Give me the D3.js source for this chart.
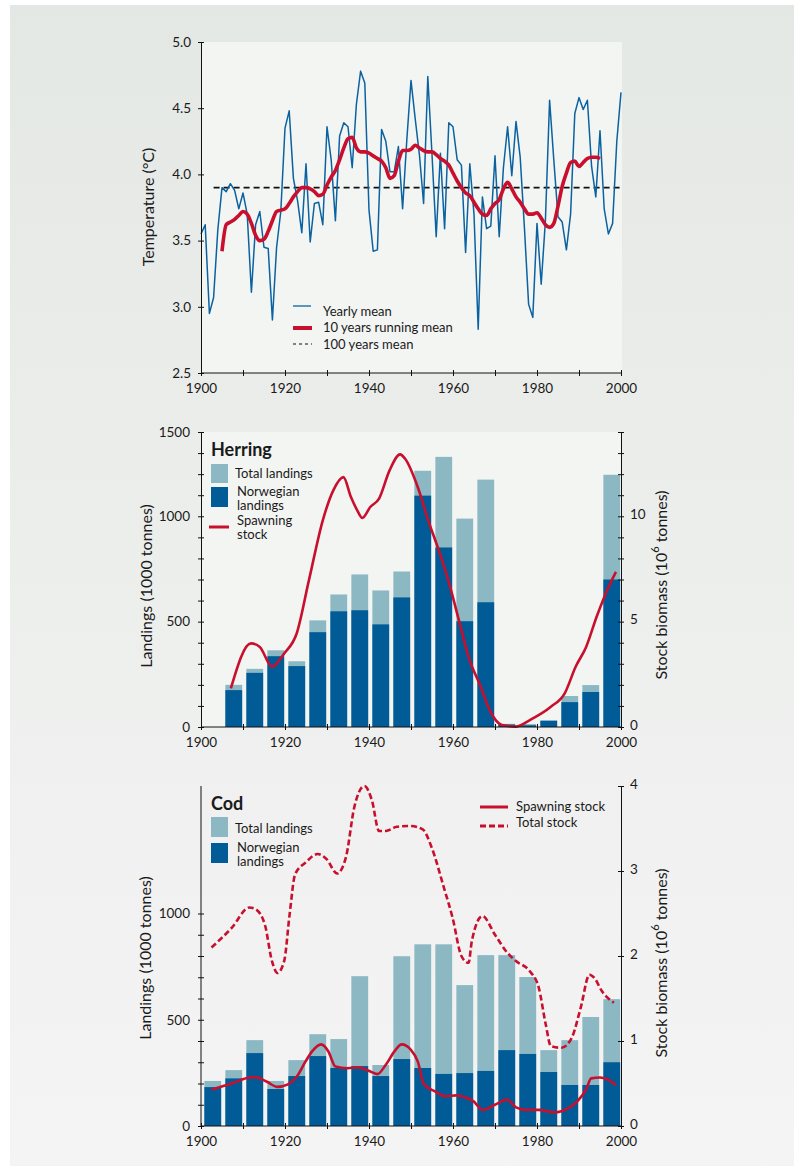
<!DOCTYPE html>
<html>
<head>
<meta charset="utf-8">
<script src="https://cdn.jsdelivr.net/npm/d3@7"></script>
<style>
  html, body { margin: 0; padding: 0; background: #ffffff; }
  svg { display: block; }
  text { font-family: Lato, "Open Sans", "DejaVu Sans", sans-serif; fill: #1a1a1a; }
</style>
</head>
<body>
<svg id="chart" width="794" height="1166"></svg>
<script>
// ---- Sea temperature, yearly mean 1900-2000 ----
const tempStartYear = 1900;
const tempYearly = [
  3.55, 3.62, 2.95, 3.07, 3.58, 3.90, 3.87, 3.93, 3.88, 3.74,
  3.86, 3.70, 3.11, 3.62, 3.72, 3.45, 3.44, 2.90, 3.45, 3.72,
  4.35, 4.48, 3.97, 3.80, 3.56, 4.08, 3.49, 3.78, 3.79, 3.62,
  4.36, 4.11, 3.65, 4.29, 4.39, 4.36, 4.05, 4.53, 4.78, 4.69,
  3.73, 3.42, 3.43, 4.34, 4.25, 4.02, 4.02, 4.21, 3.74, 4.26,
  4.71, 4.42, 4.15, 3.78, 4.74, 4.15, 3.53, 4.16, 3.59, 4.39,
  4.36, 4.11, 4.07, 3.41, 4.08, 3.70, 2.83, 3.83, 3.59, 3.61,
  4.14, 3.53, 4.05, 4.36, 3.99, 4.40, 4.13, 3.60, 3.02, 2.92,
  3.63, 3.17, 3.65, 4.56, 4.11, 3.68, 3.64, 3.43, 3.70, 4.46,
  4.58, 4.49, 4.56, 4.06, 3.83, 4.33, 3.74, 3.55, 3.63, 4.25,
  4.62
];
const runningStartYear = 1905;
const tempRunning = [
  3.42, 3.62, 3.64, 3.66, 3.69, 3.72, 3.70, 3.63, 3.54, 3.50,
  3.51, 3.57, 3.65, 3.72, 3.73, 3.74, 3.78, 3.83, 3.87, 3.90,
  3.90, 3.89, 3.87, 3.84, 3.85, 3.92, 3.98, 4.03, 4.11, 4.20,
  4.27, 4.28, 4.20, 4.17, 4.17, 4.16, 4.14, 4.12, 4.10, 4.05,
  3.97, 3.99, 4.10, 4.18, 4.18, 4.19, 4.22, 4.20, 4.18, 4.17,
  4.17, 4.15, 4.12, 4.10, 4.07, 4.01, 3.95, 3.90, 3.86, 3.84,
  3.79, 3.74, 3.70, 3.69, 3.74, 3.78, 3.81, 3.89, 3.94, 3.89,
  3.83, 3.79, 3.74, 3.70, 3.70, 3.71, 3.67, 3.62, 3.60, 3.63,
  3.76, 3.91, 4.01, 4.09, 4.10, 4.06, 4.09, 4.12, 4.13, 4.13,
  4.12
];
const centuryMean = 3.90;
const centuryMeanSpan = [1903, 2000];
const tempTicks = [2.5, 3.0, 3.5, 4.0, 4.5, 5.0];

// ---- Herring: five-year periods ----
const herringPeriods = [1905, 1910, 1915, 1920, 1925, 1930, 1935, 1940, 1945, 1950,
                        1955, 1960, 1965, 1970, 1975, 1980, 1985, 1990, 1995];
const herringTotal = [200, 276, 364, 312, 506, 629, 724, 648, 738, 1216,
                      1282, 989, 1174, 15, 14, 30, 147, 199, 1197];
const herringNorwegian = [175, 257, 336, 289, 450, 549, 554, 487, 615, 1098,
                          852, 502, 592, 12, 8, 30, 118, 166, 700];
const herringStockYears = [1907.1, 1911.9, 1914.0, 1916.9, 1919.8, 1922.8, 1925.7, 1929.0,
  1931.5, 1933.9, 1935.7, 1937.2, 1938.4, 1940.3, 1942.4, 1944.9, 1947.4, 1948.6,
  1951.6, 1954.1, 1956.6, 1959.1, 1961.6, 1963.7, 1966.6, 1968.7, 1971.6, 1975.0,
  1978.3, 1983.3, 1986.6, 1989.2, 1991.7, 1994.2, 1996.7, 1998.8];
const herringStock = [1.83, 3.97, 3.80, 2.86, 3.49, 4.45, 6.97, 9.81,
  11.23, 11.86, 10.91, 10.28, 9.92, 10.44, 10.84, 12.18, 12.94, 12.73,
  11.39, 9.81, 8.39, 6.81, 4.91, 3.33, 1.91, 0.81, 0.10, 0.02,
  0.33, 0.96, 1.60, 2.86, 3.80, 5.23, 6.49, 7.36];
const herringLeftTicks = { 0: "0", 500: "500", 1000: "1000", 1400: "1500" };

// ---- Cod: five-year periods ----
const codPeriods = [1900, 1905, 1910, 1915, 1920, 1925, 1930, 1935, 1940, 1945,
                    1950, 1955, 1960, 1965, 1970, 1975, 1980, 1985, 1990, 1995];
const codTotal = [212, 263, 404, 212, 310, 432, 409, 705, 287, 799,
                  855, 855, 663, 804, 804, 701, 357, 404, 513, 597];
const codNorwegian = [183, 224, 343, 174, 235, 329, 273, 282, 235, 315,
                      273, 245, 249, 259, 357, 339, 254, 193, 193, 300];
const codSpawnYears = [1902.5, 1907.3, 1911.5, 1913.0, 1915.7, 1918.2, 1920.7, 1922.8,
  1924.9, 1926.5, 1928.6, 1930.3, 1932.0, 1934.9, 1937.4, 1939.9, 1942.0, 1944.0,
  1946.1, 1947.8, 1949.9, 1951.6, 1953.1, 1955.8, 1958.3, 1960.8, 1963.3, 1964.9,
  1967.0, 1970.0, 1972.9, 1975.0, 1977.4, 1980.4, 1984.1, 1987.5, 1989.6, 1991.7,
  1992.9, 1995.0, 1996.7, 1998.8];
const codSpawn = [0.43, 0.50, 0.57, 0.575, 0.52, 0.46, 0.49, 0.58,
  0.76, 0.88, 0.96, 0.88, 0.70, 0.68, 0.69, 0.65, 0.61, 0.72,
  0.88, 0.96, 0.90, 0.76, 0.49, 0.405, 0.35, 0.36, 0.33, 0.29,
  0.19, 0.25, 0.31, 0.22, 0.19, 0.19, 0.16, 0.21, 0.29, 0.43,
  0.56, 0.57, 0.55, 0.48];
const codTotalStockYears = [1902.5, 1907.3, 1911.5, 1913.0, 1915.2, 1916.9, 1918.2, 1919.8,
  1921.1, 1922.4, 1924.9, 1927.8, 1929.9, 1932.4, 1934.5, 1936.5, 1938.9, 1940.7,
  1942.4, 1944.0, 1946.6, 1949.9, 1952.8, 1954.9, 1957.8, 1959.9, 1962.0, 1963.7,
  1964.5, 1967.0, 1970.0, 1972.9, 1975.0, 1978.3, 1980.4, 1982.1, 1983.3, 1985.8,
  1988.3, 1990.4, 1992.5, 1993.7, 1995.4, 1998.3];
const codTotalStock = [2.10, 2.33, 2.57, 2.55, 2.37, 1.94, 1.80, 1.94,
  2.49, 2.96, 3.10, 3.20, 3.14, 2.97, 3.16, 3.75, 4.00, 3.83,
  3.47, 3.47, 3.52, 3.53, 3.49, 3.28, 2.81, 2.45, 2.00, 1.92,
  2.18, 2.47, 2.25, 2.04, 1.94, 1.82, 1.63, 1.19, 0.94, 0.92,
  1.04, 1.39, 1.78, 1.74, 1.59, 1.45];

const yearTicks = [1900, 1910, 1920, 1930, 1940, 1950, 1960, 1970, 1980, 1990, 2000];

// ---- colours and type sizes ----
const C = {
  blue: "#0b62a0",
  red: "#c8102e",
  light: "#8bb8c3",
  dark: "#005b96",
  axis: "#111111",
  panel: "#f3f5f3"
};
const FS = { tick: 13.5, legend: 13, title: 16, head: 18 };

const svg = d3.select("#chart");

// page backdrop
const defs = svg.append("defs");
const grad = defs.append("linearGradient").attr("id", "bg").attr("x1", 0).attr("y1", 0).attr("x2", 0).attr("y2", 1);
grad.append("stop").attr("offset", "0%").attr("stop-color", "#e4e8e4");
grad.append("stop").attr("offset", "45%").attr("stop-color", "#eceeec");
grad.append("stop").attr("offset", "100%").attr("stop-color", "#f4f4f4");
svg.append("rect").attr("x", 0).attr("y", 0).attr("width", 794).attr("height", 1166).attr("fill", "#ffffff");
svg.append("rect").attr("x", 10).attr("y", 5).attr("width", 784).attr("height", 1161).attr("fill", "url(#bg)");

const x = d3.scaleLinear().domain([1900, 2000]).range([201, 621]);

// shared tick styling: ticks cross the axis line
function styleAxis(g, orient) {
  g.select(".domain").attr("stroke", C.axis).attr("stroke-width", 1);
  g.selectAll(".tick line").attr("stroke", C.axis).attr("stroke-width", 1);
  if (orient === "bottom") g.selectAll(".tick line").attr("y1", -3).attr("y2", 3);
  else g.selectAll(".tick line").attr("x1", -3).attr("x2", 3);
  g.selectAll(".tick text").style("font-size", FS.tick + "px").attr("fill", "#1a1a1a");
}

function xAxis(yPos) {
  const g = svg.append("g").attr("transform", `translate(0,${yPos})`)
    .call(d3.axisBottom(x).tickValues(yearTicks).tickSize(0).tickPadding(10)
      .tickFormat(d => (d % 20 === 0 ? d : "")))
    .call(g => g.select(".domain").attr("d", `M${x(1900)},0H${x(2000)}`));
  styleAxis(g, "bottom");
  return g;
}

function label(xp, yp, txt, opts = {}) {
  const t = svg.append("text").attr("x", xp).attr("y", yp)
    .attr("dominant-baseline", "central")
    .style("font-size", (opts.size || FS.legend) + "px")
    .style("font-weight", opts.bold ? "bold" : "normal")
    .text(txt);
  if (opts.anchor) t.attr("text-anchor", opts.anchor);
  return t;
}

function rotLabel(xp, yp, parts) {
  const t = svg.append("text").attr("transform", `translate(${xp},${yp}) rotate(-90)`)
    .attr("text-anchor", "middle").attr("dominant-baseline", "central")
    .style("font-size", FS.title + "px");
  parts.forEach(p => {
    const s = t.append("tspan").text(p.t);
    if (p.sup) s.style("font-size", "11px").attr("dy", -6);
    if (p.after) s.attr("dy", 6);
  });
  return t;
}

/* ================= Temperature ================= */
const yT = d3.scaleLinear().domain([2.5, 5.0]).range([373, 42]);
svg.append("rect").attr("x", x(1900)).attr("y", yT(5)).attr("width", x(2000) - x(1900) + 1)
  .attr("height", yT(2.5) - yT(5)).attr("fill", C.panel);

svg.append("line").attr("x1", x(centuryMeanSpan[0])).attr("x2", x(centuryMeanSpan[1]))
  .attr("y1", yT(centuryMean)).attr("y2", yT(centuryMean))
  .attr("stroke", "#111").attr("stroke-width", 1.6).attr("stroke-dasharray", "6,4");

svg.append("path").datum(tempYearly)
  .attr("fill", "none").attr("stroke", C.blue).attr("stroke-width", 1.5).attr("stroke-linejoin", "round")
  .attr("d", d3.line().x((d, i) => x(tempStartYear + i)).y(d => yT(d)));

svg.append("path").datum(tempRunning)
  .attr("fill", "none").attr("stroke", C.red).attr("stroke-width", 3.6).attr("stroke-linejoin", "round")
  .attr("d", d3.line().x((d, i) => x(runningStartYear + i)).y(d => yT(d)).curve(d3.curveMonotoneX));

const tY = svg.append("g").attr("transform", `translate(${x(1900)},0)`)
  .call(d3.axisLeft(yT).tickValues(tempTicks).tickSize(0).tickPadding(10).tickFormat(d3.format(".1f")));
styleAxis(tY, "left");
xAxis(yT(2.5));
rotLabel(147, 207, [{ t: "Temperature (°C)" }]);

// legend
svg.append("line").attr("x1", 293).attr("x2", 311).attr("y1", 306).attr("y2", 306).attr("stroke", C.blue).attr("stroke-width", 1.3);
label(323, 311, "Yearly mean");
svg.append("line").attr("x1", 293).attr("x2", 312).attr("y1", 328).attr("y2", 328).attr("stroke", C.red).attr("stroke-width", 4);
label(323, 327, "10 years running mean");
svg.append("line").attr("x1", 293).attr("x2", 312).attr("y1", 344).attr("y2", 344).attr("stroke", "#111").attr("stroke-width", 1.2).attr("stroke-dasharray", "3,3");
label(323, 344, "100 years mean");

/* ================= Herring ================= */
const yHL = d3.scaleLinear().domain([0, 1400]).range([727, 432]);
const yHR = d3.scaleLinear().domain([0, 14]).range([727, 432]);
const barW = (x(1904) - x(1900));
const barOff = 0.8;

svg.append("rect").attr("x", x(1900)).attr("y", yHL(1400)).attr("width", x(2000) - x(1900))
  .attr("height", yHL(0) - yHL(1400)).attr("fill", C.panel);

const hb = svg.append("g");
hb.selectAll("rect.tot").data(herringPeriods).join("rect")
  .attr("x", p => x(p + barOff)).attr("width", barW)
  .attr("y", (p, i) => yHL(herringTotal[i])).attr("height", (p, i) => yHL(0) - yHL(herringTotal[i]))
  .attr("fill", C.light);
hb.selectAll("rect.nor").data(herringPeriods).join("rect")
  .attr("x", p => x(p + barOff)).attr("width", barW)
  .attr("y", (p, i) => yHL(herringNorwegian[i])).attr("height", (p, i) => yHL(0) - yHL(herringNorwegian[i]))
  .attr("fill", C.dark);

svg.append("path").datum(herringStockYears.map((yr, i) => [yr, herringStock[i]]))
  .attr("fill", "none").attr("stroke", C.red).attr("stroke-width", 2.6).attr("stroke-linejoin", "round")
  .attr("d", d3.line().x(d => x(d[0])).y(d => yHR(d[1])).curve(d3.curveMonotoneX));

const hL = svg.append("g").attr("transform", `translate(${x(1900)},0)`)
  .call(d3.axisLeft(yHL).tickValues(d3.range(0, 1401, 100)).tickSize(0).tickPadding(11)
    .tickFormat(d => herringLeftTicks[d] || ""));
styleAxis(hL, "left");
const hR = svg.append("g").attr("transform", `translate(${x(2000)},0)`)
  .call(d3.axisRight(yHR).tickValues(d3.range(0, 15, 1)).tickSize(0).tickPadding(9)
    .tickFormat(d => (d % 5 === 0 ? d : "")));
styleAxis(hR, "right");
hR.selectAll(".tick text").attr("y", -2);
xAxis(yHL(0));

rotLabel(145, 586, [{ t: "Landings (1000 tonnes)" }]);
rotLabel(660, 585, [{ t: "Stock biomass (10" }, { t: "6", sup: true }, { t: " tonnes)", after: true }]);

label(211, 449, "Herring", { bold: true, size: FS.head });
svg.append("rect").attr("x", 211).attr("y", 464).attr("width", 17).attr("height", 19).attr("fill", C.light);
label(235, 473, "Total landings");
svg.append("rect").attr("x", 211).attr("y", 487).attr("width", 17).attr("height", 20).attr("fill", C.dark);
label(237, 491, "Norwegian");
label(237, 505, "landings");
svg.append("line").attr("x1", 209).attr("x2", 229).attr("y1", 527).attr("y2", 527).attr("stroke", C.red).attr("stroke-width", 3);
label(237, 520, "Spawning");
label(237, 534, "stock");

/* ================= Cod ================= */
const yCL = d3.scaleLinear().domain([0, 1600]).range([1126, 786]);
const yCR = d3.scaleLinear().domain([0, 4]).range([1126, 786]);

const cb = svg.append("g");
cb.selectAll("rect.tot").data(codPeriods).join("rect")
  .attr("x", p => x(p + barOff)).attr("width", barW)
  .attr("y", (p, i) => yCL(codTotal[i])).attr("height", (p, i) => yCL(0) - yCL(codTotal[i]))
  .attr("fill", C.light);
cb.selectAll("rect.nor").data(codPeriods).join("rect")
  .attr("x", p => x(p + barOff)).attr("width", barW)
  .attr("y", (p, i) => yCL(codNorwegian[i])).attr("height", (p, i) => yCL(0) - yCL(codNorwegian[i]))
  .attr("fill", C.dark);

svg.append("path").datum(codTotalStockYears.map((yr, i) => [yr, codTotalStock[i]]))
  .attr("fill", "none").attr("stroke", C.red).attr("stroke-width", 2.6).attr("stroke-dasharray", "6,3")
  .attr("d", d3.line().x(d => x(d[0])).y(d => yCR(d[1])).curve(d3.curveMonotoneX));
svg.append("path").datum(codSpawnYears.map((yr, i) => [yr, codSpawn[i]]))
  .attr("fill", "none").attr("stroke", C.red).attr("stroke-width", 2.6).attr("stroke-linejoin", "round")
  .attr("d", d3.line().x(d => x(d[0])).y(d => yCR(d[1])).curve(d3.curveMonotoneX));

const cL = svg.append("g").attr("transform", `translate(${x(1900)},0)`)
  .call(d3.axisLeft(yCL).tickValues(d3.range(0, 1001, 100)).tickSize(0).tickPadding(11)
    .tickFormat(d => (d % 500 === 0 ? d : "")))
  .call(g => g.select(".domain").attr("d", `M0,${yCL(0)}V${yCL(1600)}`));
styleAxis(cL, "left");
const cR = svg.append("g").attr("transform", `translate(${x(2000)},0)`)
  .call(d3.axisRight(yCR).tickValues([0, 1, 2, 3, 4]).tickSize(0).tickPadding(9).tickFormat(d3.format("d")));
styleAxis(cR, "right");
cR.selectAll(".tick text").attr("y", -2);
xAxis(yCL(0));

rotLabel(144, 958, [{ t: "Landings (1000 tonnes)" }]);
rotLabel(660, 963, [{ t: "Stock biomass (10" }, { t: "6", sup: true }, { t: " tonnes)", after: true }]);

label(211, 803, "Cod", { bold: true, size: FS.head });
svg.append("rect").attr("x", 211).attr("y", 817).attr("width", 17).attr("height", 20).attr("fill", C.light);
label(235, 828, "Total landings");
svg.append("rect").attr("x", 211).attr("y", 843).attr("width", 17).attr("height", 20).attr("fill", C.dark);
label(237, 847, "Norwegian");
label(237, 861, "landings");

svg.append("line").attr("x1", 480).attr("x2", 508).attr("y1", 807).attr("y2", 807).attr("stroke", C.red).attr("stroke-width", 3);
label(516, 806, "Spawning stock");
svg.append("line").attr("x1", 480).attr("x2", 508).attr("y1", 826).attr("y2", 826).attr("stroke", C.red).attr("stroke-width", 3).attr("stroke-dasharray", "6,3");
label(516, 822, "Total stock");
</script>
</body>
</html>
